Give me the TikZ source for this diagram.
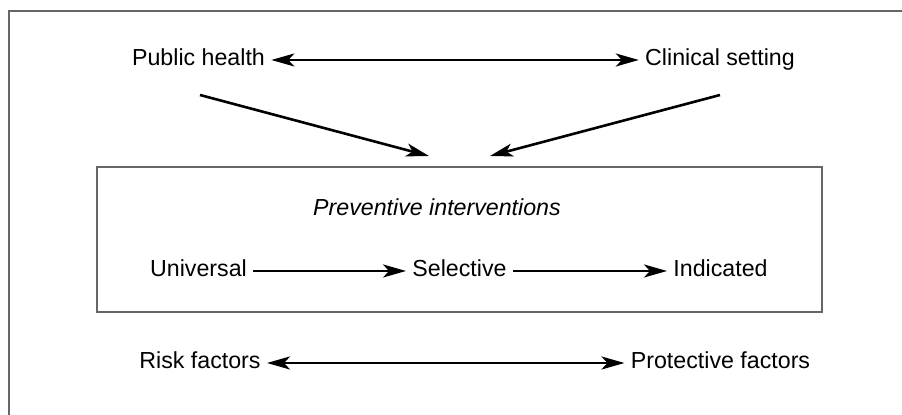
\documentclass[tikz,border=0pt]{standalone}
\usepackage{fontspec}
\setmainfont{Liberation Sans}
\usetikzlibrary{arrows.meta}
\begin{document}
\begin{tikzpicture}[x=0.5pt,y=-0.5pt,
  >={Stealth[length=11.5pt,width=6.5pt,inset=3pt]},
  lbl/.style={font=\fontsize{11.6}{14}\selectfont,inner sep=3pt,text height=8.5pt,text depth=2.5pt},
  arr/.style={line width=1.3pt},
  frame/.style={draw=black!60,line width=0.75pt}]
\useasboundingbox (0,0) rectangle (902,415);
\draw[frame] (9,415) -- (9,11) -- (902,11);
\node[frame,minimum width=362.5pt,minimum height=72.5pt,inner sep=0] (box) at (459.5,239.5) {};
\node[lbl] (ph) at (198.5,60) {Public health};
\node[lbl] (cs) at (720,60) {Clinical setting};
\node[lbl,font=\fontsize{11.6}{14}\selectfont\itshape] (pi) at (437,210) {Preventive interventions};
\node[lbl] (un) at (198.5,271) {Universal};
\node[lbl] (se) at (459.5,271) {Selective};
\node[lbl] (in) at (720.5,271) {Indicated};
\node[lbl] (rf) at (200,363) {Risk factors};
\node[lbl] (pf) at (720.5,363) {Protective factors};
\coordinate (phs) at (200,95);
\coordinate (css) at (720,95);
\coordinate (pil) at (429,156);
\coordinate (pir) at (490,156);
\path[arr]
(ph) edge[<->] (cs)
(phs) edge[->] (pil)
(css) edge[->] (pir)
(un) edge[->] (se)
(se) edge[->] (in)
(rf) edge[<->] (pf);
\end{tikzpicture}
\end{document}
